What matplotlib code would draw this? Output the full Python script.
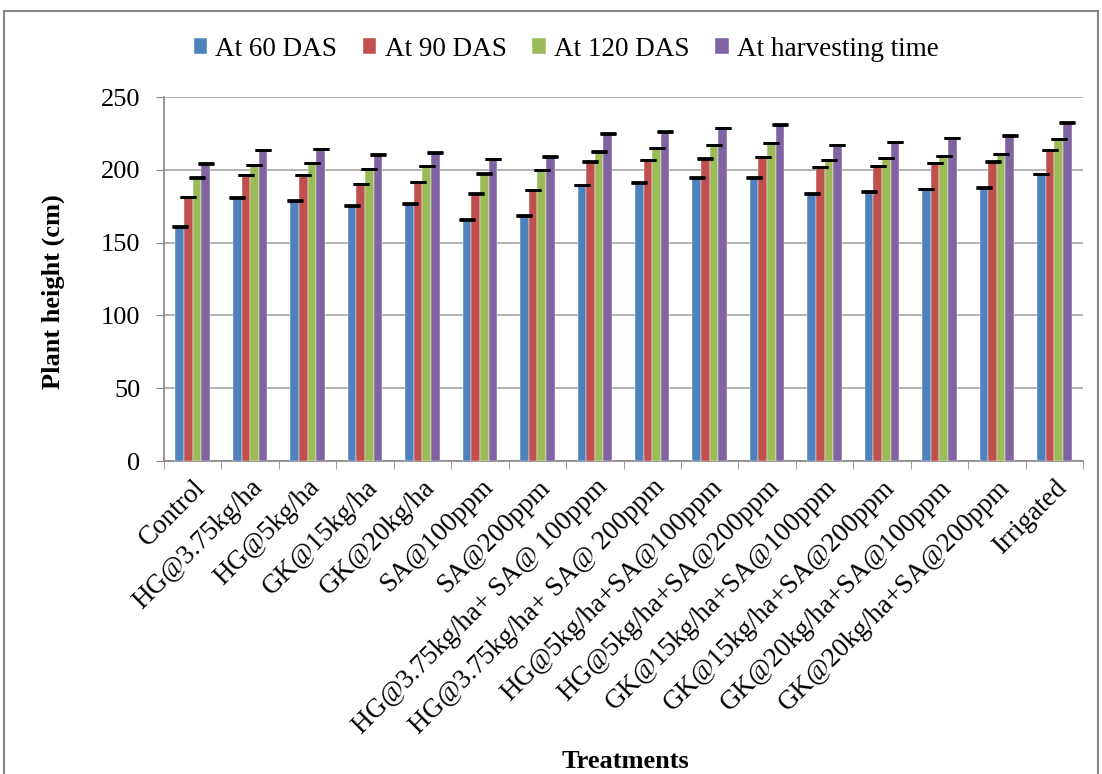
import numpy as np
import matplotlib
matplotlib.use("Agg")
import matplotlib.pyplot as plt
from matplotlib.patches import Rectangle

plt.rcParams['font.family'] = ['Liberation Serif', 'DejaVu Serif']

treatments = ['Control', 'HG@3.75kg/ha', 'HG@5kg/ha', 'GK@15kg/ha', 'GK@20kg/ha',
              'SA@100ppm', 'SA@200ppm', 'HG@3.75kg/ha+ SA@ 100ppm',
              'HG@3.75kg/ha+ SA@ 200ppm', 'HG@5kg/ha+SA@100ppm', 'HG@5kg/ha+SA@200ppm',
              'GK@15kg/ha+SA@100ppm', 'GK@15kg/ha+SA@200ppm', 'GK@20kg/ha+SA@100ppm',
              'GK@20kg/ha+SA@200ppm', 'Irrigated']

series_names = ['At 60 DAS', 'At 90 DAS', 'At 120 DAS', 'At harvesting time']

das60 = [161.0, 180.7, 178.7, 175.2, 176.8, 165.8, 168.6, 189.4, 191.1, 194.5, 194.7, 183.7, 184.9, 186.7, 187.6, 197.0]
das90 = [181.0, 196.1, 196.3, 190.1, 191.5, 183.5, 185.8, 205.7, 206.6, 207.6, 208.7, 201.6, 202.5, 204.6, 205.7, 213.3]
das120 = [194.5, 203.0, 204.6, 200.4, 202.5, 197.3, 199.7, 212.4, 214.7, 216.7, 218.1, 206.4, 207.8, 209.4, 210.7, 221.0]
harvest = [204.3, 213.3, 214.2, 210.3, 211.7, 207.1, 208.9, 224.8, 226.3, 228.4, 231.0, 216.8, 219.0, 221.7, 223.4, 232.3]

# upper error only, very small in the original
err60 = [0.4, 0.4, 0.4, 0.4, 0.4, 0.4, 0.4, 0.4, 0.4, 0.4, 0.4, 0.4, 0.4, 0.4, 0.4, 0.4]
err90 = [0.4, 0.4, 0.4, 0.4, 0.4, 0.4, 0.4, 0.4, 0.4, 0.4, 0.4, 0.4, 0.4, 0.4, 0.4, 0.4]
err120 = [0.4, 0.4, 0.4, 0.4, 0.4, 0.4, 0.4, 0.4, 0.4, 0.4, 0.4, 0.4, 0.4, 0.4, 0.4, 0.4]
errh = [0.4, 0.4, 0.4, 0.4, 0.4, 0.4, 0.4, 0.4, 0.4, 0.4, 0.4, 0.4, 0.4, 0.4, 0.4, 0.8]

colors = ['#4f81bd', '#c0504d', '#9bbb59', '#8064a2']

fig = plt.figure(figsize=(11.02, 7.74), dpi=100)
ax = fig.add_axes([164 / 1102, 1 - 461 / 774, (1083 - 164) / 1102, (461 - 97) / 774])

x = np.arange(len(treatments))
width = 0.15
all_vals = [das60, das90, das120, harvest]
all_errs = [err60, err90, err120, errh]
for i, (vals, errs) in enumerate(zip(all_vals, all_errs)):
    pos = x + (i - 1.5) * width
    ax.bar(pos, vals, width, color=colors[i], label=series_names[i], zorder=3,
           edgecolor='white', linewidth=0.3)
    ax.errorbar(pos, vals, yerr=[np.zeros(len(errs)), errs], fmt='none', ecolor='black',
                elinewidth=1, capsize=6, capthick=2, zorder=4)

ax.set_ylim(0, 250)
ax.set_yticks([0, 50, 100, 150, 200, 250])
ax.set_xlim(-0.5, len(treatments) - 0.5)
ax.set_xticks(x)
ax.set_xticklabels(treatments, rotation=45, ha='right', rotation_mode='anchor')
ax.set_xticks(np.arange(len(treatments) + 1) - 0.5, minor=True)
ax.tick_params(axis='x', which='major', length=0, labelsize=19.5, pad=10)
ax.tick_params(axis='x', which='minor', length=6, color='#868686', direction='out')
ax.tick_params(axis='y', length=6, color='#868686', labelsize=19, pad=11)

ax.grid(axis='y', color='#a6a6a6', linewidth=1.2, zorder=0)
for s in ['top', 'right']:
    ax.spines[s].set_visible(False)
for s in ['left', 'bottom']:
    ax.spines[s].set_color('#868686')
    ax.spines[s].set_linewidth(1.2)

fig.text(53 / 1102, 1 - 292 / 774, 'Plant height (cm)', fontsize=19, fontweight='bold',
         rotation=90, ha='center', va='center')
fig.text(625 / 1102, 1 - 761 / 774, 'Treatments', fontsize=19, fontweight='bold',
         ha='center', va='center')

leg = fig.legend(loc='center', bbox_to_anchor=(566 / 1102, 1 - 49 / 774), ncol=4,
                 frameon=False, prop={'family': 'Liberation Serif', 'size': 19.5},
                 handlelength=0.5, handleheight=0.5,
                 handletextpad=0.3, columnspacing=0.95)

fig.patches.append(Rectangle((4 / 1102, -0.01), 1094 / 1102, 1 - 11 / 774 + 0.01,
                             transform=fig.transFigure, fill=False,
                             edgecolor='#868686', linewidth=1.5))

fig.savefig('out.png', dpi=100)
